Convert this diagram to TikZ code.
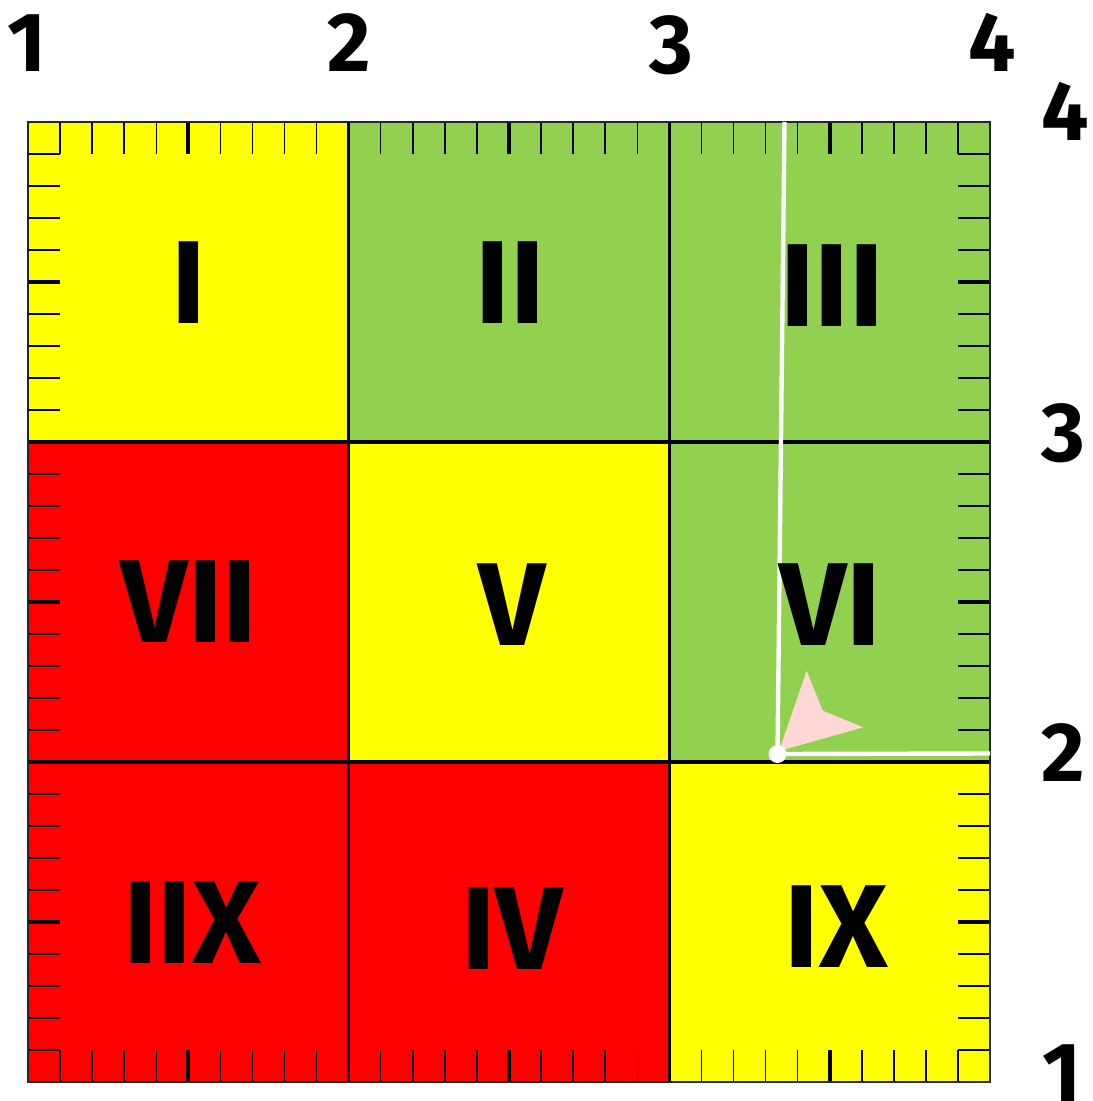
\documentclass[tikz,border=0pt]{standalone}
\usepackage{fontspec}
\newfontfamily\heavy{Fira Sans}
\definecolor{cyel}{HTML}{FFFF00}
\definecolor{cgrn}{HTML}{92D050}
\definecolor{cred}{HTML}{FF0000}
\definecolor{cpink}{HTML}{FFD7D7}
\begin{document}
\begin{tikzpicture}[x=0.5pt,y=-0.5pt,
  roman/.style={font=\heavy\bfseries\fontsize{59}{59}\selectfont, anchor=base, inner sep=0pt},
  axisnum/.style={font=\heavy\bfseries\fontsize{42}{42}\selectfont, anchor=base, inner sep=0pt},
  tk/.style={line width=0.75pt, black},
  majortk/.style={line width=2pt, black},
  gridline/.style={line width=1.8pt, black},
  border/.style={line width=1pt, black!85},
  whiteline/.style={line width=2.2pt, white},
]
\useasboundingbox (0,0) rectangle (1092,1101);
% cells
\foreach \r/\c/\col in {0/0/cyel,0/1/cgrn,0/2/cgrn,1/0/cred,1/1/cyel,1/2/cgrn,2/0/cred,2/1/cred,2/2/cyel}{
  \fill[\col] ({28+\c*320.667},{122+\r*320}) rectangle ({28+(\c+1)*320.667},{122+(\r+1)*320});
}
% ticks
\foreach \c in {0,1,2}{
  \foreach \k/\s in {1/tk,2/tk,3/tk,4/tk,5/majortk,6/tk,7/tk,8/tk,9/tk}{
    \draw[\s] ({28+\c*320.667+\k*32.0667},122) -- ++(0,32);
    \draw[\s] ({28+\c*320.667+\k*32.0667},1082) -- ++(0,-32);
    \draw[\s] (28,{122+\c*320+\k*32}) -- ++(32,0);
    \draw[\s] (990,{122+\c*320+\k*32}) -- ++(-32,0);
  }
}
% grid lines
\draw[gridline] (348.667,122) -- (348.667,1082);
\draw[gridline] (669.333,122) -- (669.333,1082);
\draw[gridline] (28,442) -- (990,442);
\draw[gridline] (28,762) -- (990,762);
\draw[border] (28,122) rectangle (990,1082);
% white lines and marker
\coordinate (o) at (777.5,754);
\coordinate (vt) at (784.5,122);
\coordinate (hr) at (990,753.5);
\draw[whiteline] (vt) -- (o) -- (hr);
\fill[cpink] (779,751) -- (806.7,670.7) -- (822.7,710.7) -- (863.3,727.3) -- cycle;
\fill[white] (o) circle (9);
% roman numerals
\node[roman] (nI)   at (189,323) {I};
\node[roman] (nII)  at (510,323) {II};
\node[roman] (nIII) at (832,327) {III};
\node[roman] (nVII) at (189,642) {VII};
\node[roman] (nV)   at (512,645) {V};
\node[roman] (nVI)  at (830,645) {VI};
\node[roman] (nIIX) at (192,963) {IIX};
\node[roman] (nIV)  at (512,969) {IV};
\node[roman] (nIX)  at (836,967) {IX};
% axis numbers
\node[axisnum] (t1) at (27,72) {1};
\node[axisnum] (t2) at (349,72) {2};
\node[axisnum] (t3) at (671,74) {3};
\node[axisnum] (t4) at (992,72) {4};
\node[axisnum] (r4) at (1065,141) {4};
\node[axisnum] (r3) at (1063,461) {3};
\node[axisnum] (r2) at (1063,781) {2};
\node[axisnum] (r1) at (1062,1101) {1};
\end{tikzpicture}
\end{document}
